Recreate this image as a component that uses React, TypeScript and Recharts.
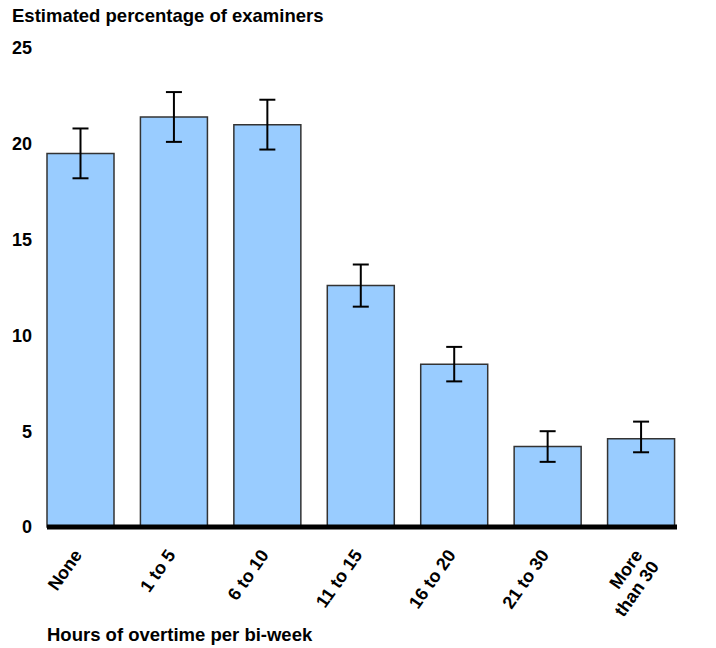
import { Bar, BarChart, ErrorBar, ReferenceLine, XAxis, YAxis } from "recharts";

const categories = ["None", "1 to 5", "6 to 10", "11 to 15", "16 to 20", "21 to 30", "More than 30"];
const percent = [19.5, 21.4, 21.0, 12.6, 8.5, 4.2, 4.6];
const errLow = [1.3, 1.3, 1.3, 1.1, 0.9, 0.8, 0.7];
const errHigh = [1.3, 1.3, 1.3, 1.1, 0.9, 0.8, 0.9];
const yTicks = [0, 5, 10, 15, 20, 25];

const data = categories.map((name, i) => ({
  name,
  value: percent[i],
  err: [errLow[i], errHigh[i]],
}));

const font = "'Liberation Sans', Arial, sans-serif";

function XTick({ x, y, payload }: any) {
  const label: string = payload.value;
  const lines = label === "More than 30" ? ["More", "than 30"] : [label];
  const ax = x + 2;
  const ay = y + 20;
  return (
    <text
      x={ax}
      y={ay}
      textAnchor="end"
      transform={`rotate(-55, ${ax}, ${ay})`}
      fontFamily={font}
      fontWeight="bold"
      fontSize={18}
      fill="#000"
    >
      {lines.map((l, i) => (
        <tspan key={l} x={ax} dy={i === 0 ? 0 : 20}>
          {l}
        </tspan>
      ))}
    </text>
  );
}

function BaseLine(props: any) {
  const { x1, x2, y1 } = props;
  return <line x1={x1 + 13} x2={x2 - 11} y1={y1} y2={y1} stroke="#000" strokeWidth={5} />;
}

export default function App() {
  return (
    <div style={{ position: "relative", width: 716, height: 648, fontFamily: font }}>
      <style>{"body{margin:0}"}</style>
      <div
        style={{ position: "absolute", left: 12, top: 5, fontSize: 18.5, fontWeight: "bold", color: "#000" }}
      >
        Estimated percentage of examiners
      </div>
      <div
        style={{ position: "absolute", left: 47, top: 624, fontSize: 18.5, fontWeight: "bold", color: "#000" }}
      >
        Hours of overtime per bi-week
      </div>
      <BarChart
        width={716}
        height={648}
        data={data}
        margin={{ top: 48, right: 28, left: 0, bottom: 41 }}
        barSize={67}
      >
        <XAxis
          dataKey="name"
          axisLine={false}
          tickLine={false}
          interval={0}
          height={80}
          tick={<XTick />}
        />
        <YAxis
          domain={[0, 25]}
          ticks={yTicks}
          width={34}
          axisLine={false}
          tickLine={false}
          tickSize={0}
          tickMargin={2}
          tick={{ fill: "#000", fontSize: 18, fontWeight: "bold", fontFamily: font }}
        />
        <Bar dataKey="value" fill="#99ccff" stroke="#333" strokeWidth={1.5} isAnimationActive={false}>
          <ErrorBar dataKey="err" width={8} stroke="#000" strokeWidth={2} />
        </Bar>
        <ReferenceLine y={0} shape={<BaseLine />} />
      </BarChart>
    </div>
  );
}
